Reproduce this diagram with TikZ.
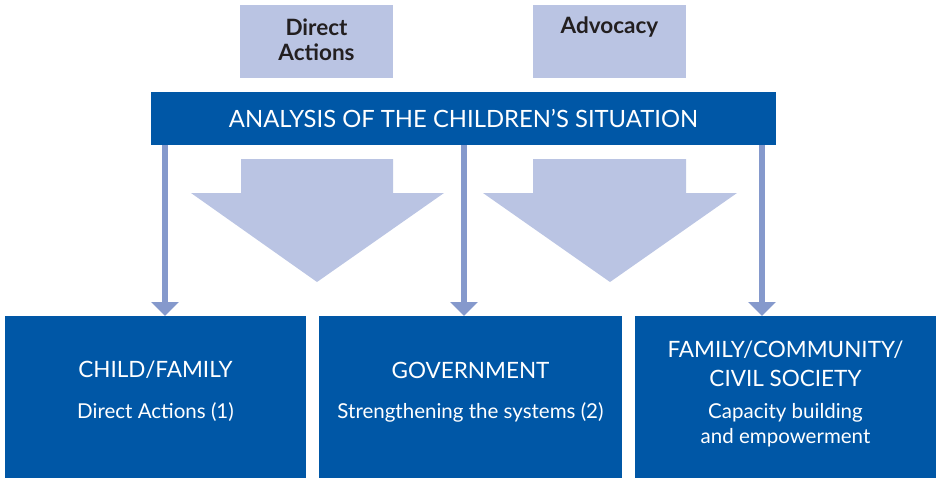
\documentclass[tikz,border=0pt]{standalone}
\usepackage{fontspec}
\setmainfont{Lato}
\usetikzlibrary{arrows.meta}
\definecolor{dblue}{HTML}{0057A6}
\definecolor{lav}{HTML}{BAC4E3}
\definecolor{arr}{HTML}{8599CC}
\definecolor{dtext}{HTML}{231F20}
\begin{document}
\begin{tikzpicture}[x=1pt,y=-1pt,
  boxbase/.style={draw=none,inner sep=0pt,outer sep=0pt},
  topbox/.style={boxbase,fill=lav},
  bluebox/.style={boxbase,fill=dblue},
  toptxt/.style={inner sep=0pt,font=\fontsize{22.5}{25}\selectfont\bfseries,text=dtext,align=center},
  bartxt/.style={inner sep=0pt,font=\fontsize{23.8}{26}\selectfont,text=white},
  headtxt/.style={inner sep=0pt,font=\fontsize{22.5}{29}\selectfont,text=white,align=center},
  subtxt/.style={inner sep=0pt,font=\fontsize{20.5}{25}\selectfont,text=white,align=center},
  conn/.style={draw=arr,line width=6pt,-{Triangle[width=27pt,length=14pt]}}]
\useasboundingbox (0,0) rectangle (936,479);
% top boxes
\node[topbox,minimum width=153pt,minimum height=73pt] (da) at (316.5,41.5) {};
\node[topbox,minimum width=153pt,minimum height=73pt] (adv) at (609.5,41.5) {};
\node[toptxt] (datxt) at (316.5,39.5) {Direct\\Actions};
\node[toptxt] (advtxt) at (609.5,27) {Advocacy};
% bar
\node[bluebox,minimum width=625pt,minimum height=53pt] (bar) at (463.5,118.5) {};
\node[bartxt] (bartext) at (463.5,118.5) {ANALYSIS OF THE CHILDREN’S SITUATION};
% big arrows
\fill[lav] (241,159) -- (393,159) -- (393,193) -- (444,193) -- (317,282) -- (191,193) -- (241,193) -- cycle;
\fill[lav] (533,159) -- (686,159) -- (686,193) -- (737,193) -- (610,282) -- (483,193) -- (533,193) -- cycle;
% bottom boxes
\node[bluebox,minimum width=301pt,minimum height=162pt] (b1) at (155.5,397) {};
\node[bluebox,minimum width=303pt,minimum height=162pt] (b2) at (470.5,397) {};
\node[bluebox,minimum width=301pt,minimum height=162pt] (b3) at (785.5,397) {};
\node[headtxt] (h1) at (155.5,370) {CHILD/FAMILY};
\node[subtxt] (s1) at (155.5,412) {Direct Actions (1)};
\node[headtxt] (h2) at (470.5,370) {GOVERNMENT};
\node[subtxt] (s2) at (470.5,412) {Strengthening the systems (2)};
\node[headtxt] (h3) at (785.5,363.5) {FAMILY/COMMUNITY/\\CIVIL SOCIETY};
\node[subtxt] (s3) at (785.5,425.5) {Capacity building\\and empowerment};
% connectors
\coordinate (t1) at (165,145);
\coordinate (t2) at (464,145);
\coordinate (t3) at (762,145);
\draw[conn] (t1) -- (t1 |- b1.north);
\draw[conn] (t2) -- (t2 |- b2.north);
\draw[conn] (t3) -- (t3 |- b3.north);
\end{tikzpicture}
\end{document}
